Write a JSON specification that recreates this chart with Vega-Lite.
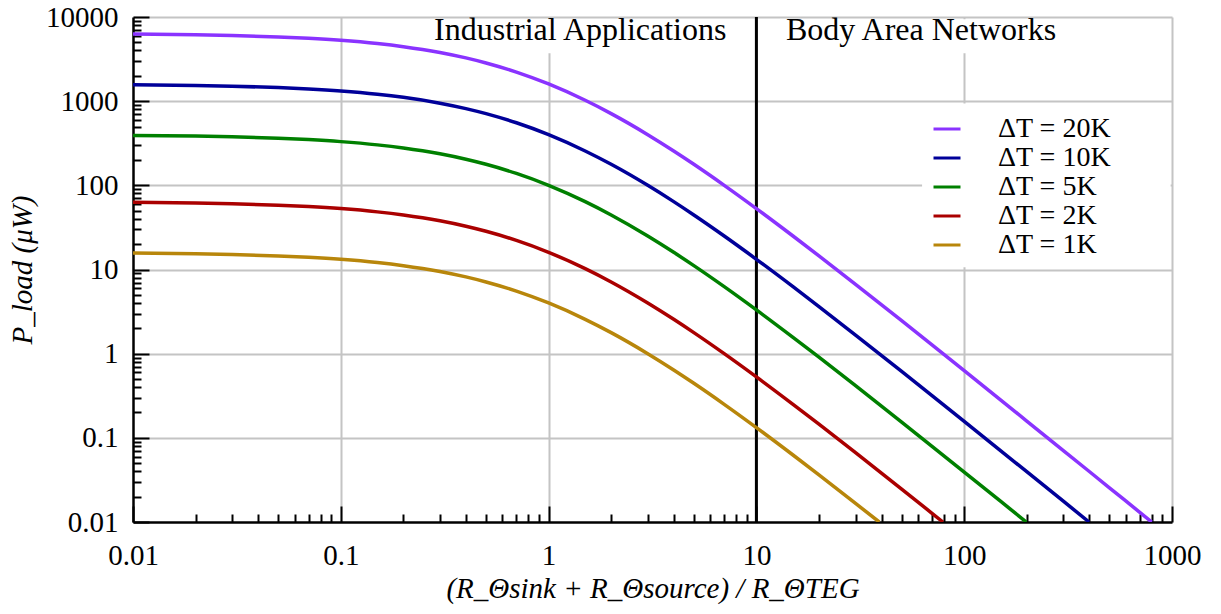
{
  "$schema": "https://vega.github.io/schema/vega-lite/v6.json",
  "width": 1039,
  "height": 505,
  "autosize": {"type": "none"},
  "padding": {"left": 133, "top": 17, "right": 49, "bottom": 92},
  "background": "white",
  "config": {
    "view": {"stroke": null},
    "font": "Liberation Serif",
    "legend": {"labelFont": "Liberation Serif"}
  },
  "datasets": {
    "curves": [
      {"x": 0.01, "p": 6273.9, "s": "ΔT = 20K"}, {"x": 0.02, "p": 6151.5, "s": "ΔT = 20K"}, {"x": 0.03, "p": 6032.6, "s": "ΔT = 20K"}, {"x": 0.05, "p": 5805.0, "s": "ΔT = 20K"}, {"x": 0.07, "p": 5590.0, "s": "ΔT = 20K"}, {"x": 0.1, "p": 5289.3, "s": "ΔT = 20K"}, {"x": 0.15, "p": 4839.3, "s": "ΔT = 20K"}, {"x": 0.2, "p": 4444.4, "s": "ΔT = 20K"}, {"x": 0.3, "p": 3787.0, "s": "ΔT = 20K"}, {"x": 0.4, "p": 3265.3, "s": "ΔT = 20K"}, {"x": 0.5, "p": 2844.4, "s": "ΔT = 20K"}, {"x": 0.7, "p": 2214.5, "s": "ΔT = 20K"}, {"x": 1, "p": 1600, "s": "ΔT = 20K"}, {"x": 1.5, "p": 1024, "s": "ΔT = 20K"}, {"x": 2, "p": 711.1, "s": "ΔT = 20K"}, {"x": 3, "p": 400, "s": "ΔT = 20K"}, {"x": 4, "p": 256, "s": "ΔT = 20K"}, {"x": 5, "p": 177.8, "s": "ΔT = 20K"}, {"x": 7, "p": 100, "s": "ΔT = 20K"}, {"x": 10, "p": 52.89, "s": "ΔT = 20K"}, {"x": 15, "p": 25.0, "s": "ΔT = 20K"}, {"x": 20, "p": 14.51, "s": "ΔT = 20K"}, {"x": 30, "p": 6.66, "s": "ΔT = 20K"}, {"x": 50, "p": 2.461, "s": "ΔT = 20K"}, {"x": 70, "p": 1.2696, "s": "ΔT = 20K"}, {"x": 100, "p": 0.6274, "s": "ΔT = 20K"}, {"x": 150, "p": 0.2807, "s": "ΔT = 20K"}, {"x": 200, "p": 0.1584, "s": "ΔT = 20K"}, {"x": 300, "p": 0.07064, "s": "ΔT = 20K"}, {"x": 400, "p": 0.0398, "s": "ΔT = 20K"}, {"x": 500, "p": 0.0255, "s": "ΔT = 20K"}, {"x": 700, "p": 0.01302, "s": "ΔT = 20K"}, {"x": 799, "p": 0.01, "s": "ΔT = 20K"},
      {"x": 0.01, "p": 1568.5, "s": "ΔT = 10K"}, {"x": 0.02, "p": 1537.9, "s": "ΔT = 10K"}, {"x": 0.03, "p": 1508.2, "s": "ΔT = 10K"}, {"x": 0.05, "p": 1451.2, "s": "ΔT = 10K"}, {"x": 0.07, "p": 1397.5, "s": "ΔT = 10K"}, {"x": 0.1, "p": 1322.3, "s": "ΔT = 10K"}, {"x": 0.15, "p": 1209.8, "s": "ΔT = 10K"}, {"x": 0.2, "p": 1111.1, "s": "ΔT = 10K"}, {"x": 0.3, "p": 946.7, "s": "ΔT = 10K"}, {"x": 0.4, "p": 816.3, "s": "ΔT = 10K"}, {"x": 0.5, "p": 711.1, "s": "ΔT = 10K"}, {"x": 0.7, "p": 553.6, "s": "ΔT = 10K"}, {"x": 1, "p": 400, "s": "ΔT = 10K"}, {"x": 1.5, "p": 256, "s": "ΔT = 10K"}, {"x": 2, "p": 177.8, "s": "ΔT = 10K"}, {"x": 3, "p": 100, "s": "ΔT = 10K"}, {"x": 4, "p": 64, "s": "ΔT = 10K"}, {"x": 5, "p": 44.44, "s": "ΔT = 10K"}, {"x": 7, "p": 25, "s": "ΔT = 10K"}, {"x": 10, "p": 13.22, "s": "ΔT = 10K"}, {"x": 15, "p": 6.25, "s": "ΔT = 10K"}, {"x": 20, "p": 3.628, "s": "ΔT = 10K"}, {"x": 30, "p": 1.665, "s": "ΔT = 10K"}, {"x": 50, "p": 0.6152, "s": "ΔT = 10K"}, {"x": 70, "p": 0.3174, "s": "ΔT = 10K"}, {"x": 100, "p": 0.1568, "s": "ΔT = 10K"}, {"x": 150, "p": 0.07017, "s": "ΔT = 10K"}, {"x": 200, "p": 0.0396, "s": "ΔT = 10K"}, {"x": 300, "p": 0.01766, "s": "ΔT = 10K"}, {"x": 399, "p": 0.01, "s": "ΔT = 10K"},
      {"x": 0.01, "p": 392.1, "s": "ΔT = 5K"}, {"x": 0.02, "p": 384.5, "s": "ΔT = 5K"}, {"x": 0.03, "p": 377.0, "s": "ΔT = 5K"}, {"x": 0.05, "p": 362.8, "s": "ΔT = 5K"}, {"x": 0.07, "p": 349.4, "s": "ΔT = 5K"}, {"x": 0.1, "p": 330.6, "s": "ΔT = 5K"}, {"x": 0.15, "p": 302.5, "s": "ΔT = 5K"}, {"x": 0.2, "p": 277.8, "s": "ΔT = 5K"}, {"x": 0.3, "p": 236.7, "s": "ΔT = 5K"}, {"x": 0.4, "p": 204.1, "s": "ΔT = 5K"}, {"x": 0.5, "p": 177.8, "s": "ΔT = 5K"}, {"x": 0.7, "p": 138.4, "s": "ΔT = 5K"}, {"x": 1, "p": 100, "s": "ΔT = 5K"}, {"x": 1.5, "p": 64, "s": "ΔT = 5K"}, {"x": 2, "p": 44.44, "s": "ΔT = 5K"}, {"x": 3, "p": 25, "s": "ΔT = 5K"}, {"x": 4, "p": 16, "s": "ΔT = 5K"}, {"x": 5, "p": 11.11, "s": "ΔT = 5K"}, {"x": 7, "p": 6.25, "s": "ΔT = 5K"}, {"x": 10, "p": 3.306, "s": "ΔT = 5K"}, {"x": 15, "p": 1.5625, "s": "ΔT = 5K"}, {"x": 20, "p": 0.907, "s": "ΔT = 5K"}, {"x": 30, "p": 0.4162, "s": "ΔT = 5K"}, {"x": 50, "p": 0.1538, "s": "ΔT = 5K"}, {"x": 70, "p": 0.07935, "s": "ΔT = 5K"}, {"x": 100, "p": 0.03921, "s": "ΔT = 5K"}, {"x": 150, "p": 0.01754, "s": "ΔT = 5K"}, {"x": 199, "p": 0.01, "s": "ΔT = 5K"},
      {"x": 0.01, "p": 62.74, "s": "ΔT = 2K"}, {"x": 0.02, "p": 61.51, "s": "ΔT = 2K"}, {"x": 0.03, "p": 60.33, "s": "ΔT = 2K"}, {"x": 0.05, "p": 58.05, "s": "ΔT = 2K"}, {"x": 0.07, "p": 55.9, "s": "ΔT = 2K"}, {"x": 0.1, "p": 52.89, "s": "ΔT = 2K"}, {"x": 0.15, "p": 48.39, "s": "ΔT = 2K"}, {"x": 0.2, "p": 44.44, "s": "ΔT = 2K"}, {"x": 0.3, "p": 37.87, "s": "ΔT = 2K"}, {"x": 0.4, "p": 32.65, "s": "ΔT = 2K"}, {"x": 0.5, "p": 28.44, "s": "ΔT = 2K"}, {"x": 0.7, "p": 22.15, "s": "ΔT = 2K"}, {"x": 1, "p": 16, "s": "ΔT = 2K"}, {"x": 1.5, "p": 10.24, "s": "ΔT = 2K"}, {"x": 2, "p": 7.111, "s": "ΔT = 2K"}, {"x": 3, "p": 4, "s": "ΔT = 2K"}, {"x": 4, "p": 2.56, "s": "ΔT = 2K"}, {"x": 5, "p": 1.778, "s": "ΔT = 2K"}, {"x": 7, "p": 1.0, "s": "ΔT = 2K"}, {"x": 10, "p": 0.5289, "s": "ΔT = 2K"}, {"x": 15, "p": 0.25, "s": "ΔT = 2K"}, {"x": 20, "p": 0.1451, "s": "ΔT = 2K"}, {"x": 30, "p": 0.0666, "s": "ΔT = 2K"}, {"x": 50, "p": 0.02461, "s": "ΔT = 2K"}, {"x": 70, "p": 0.0127, "s": "ΔT = 2K"}, {"x": 79, "p": 0.01, "s": "ΔT = 2K"},
      {"x": 0.01, "p": 15.68, "s": "ΔT = 1K"}, {"x": 0.02, "p": 15.38, "s": "ΔT = 1K"}, {"x": 0.03, "p": 15.08, "s": "ΔT = 1K"}, {"x": 0.05, "p": 14.51, "s": "ΔT = 1K"}, {"x": 0.07, "p": 13.97, "s": "ΔT = 1K"}, {"x": 0.1, "p": 13.22, "s": "ΔT = 1K"}, {"x": 0.15, "p": 12.1, "s": "ΔT = 1K"}, {"x": 0.2, "p": 11.11, "s": "ΔT = 1K"}, {"x": 0.3, "p": 9.467, "s": "ΔT = 1K"}, {"x": 0.4, "p": 8.163, "s": "ΔT = 1K"}, {"x": 0.5, "p": 7.111, "s": "ΔT = 1K"}, {"x": 0.7, "p": 5.536, "s": "ΔT = 1K"}, {"x": 1, "p": 4, "s": "ΔT = 1K"}, {"x": 1.5, "p": 2.56, "s": "ΔT = 1K"}, {"x": 2, "p": 1.778, "s": "ΔT = 1K"}, {"x": 3, "p": 1, "s": "ΔT = 1K"}, {"x": 4, "p": 0.64, "s": "ΔT = 1K"}, {"x": 5, "p": 0.4444, "s": "ΔT = 1K"}, {"x": 7, "p": 0.25, "s": "ΔT = 1K"}, {"x": 10, "p": 0.1322, "s": "ΔT = 1K"}, {"x": 15, "p": 0.0625, "s": "ΔT = 1K"}, {"x": 20, "p": 0.03628, "s": "ΔT = 1K"}, {"x": 30, "p": 0.01665, "s": "ΔT = 1K"}, {"x": 39, "p": 0.01, "s": "ΔT = 1K"}
    ],
    "boxes": [
      {"x": 0.27, "x2": 9.5, "y": 3700, "y2": 9400},
      {"x": 13, "x2": 290, "y": 3700, "y2": 9400},
      {"x": 62.7, "x2": 985, "y": 10.6, "y2": 940}
    ],
    "labels": [
      {"x": 1.42, "y": 5300, "t": "Industrial Applications"},
      {"x": 62, "y": 5300, "t": "Body Area Networks"}
    ],
    "divider": [
      {"x": 10, "y": 0.01, "y2": 10000}
    ]
  },
  "resolve": {"axis": {"x": "independent", "y": "independent"}},
  "layer": [
    {
      "data": {"name": "boxes"},
      "mark": {"type": "rect", "fill": "white", "stroke": null},
      "encoding": {
        "x": {"field": "x", "type": "quantitative",
          "scale": {"type": "log", "domain": [0.01, 1000]},
          "axis": {"orient": "bottom", "values": [0.1, 1, 10, 100, 1000], "grid": true, "gridColor": "#c4c4c4", "gridWidth": 2, "gridOpacity": 1, "ticks": false, "labels": false, "domain": false, "title": null}},
        "x2": {"field": "x2"},
        "y": {"field": "y", "type": "quantitative",
          "scale": {"type": "log", "domain": [0.01, 10000]},
          "axis": {"orient": "left", "values": [0.1, 1, 10, 100, 1000, 10000], "grid": true, "gridColor": "#c4c4c4", "gridWidth": 2, "gridOpacity": 1, "ticks": false, "labels": false, "domain": false, "title": null}},
        "y2": {"field": "y2"}
      }
    },
    {
      "data": {"name": "divider"},
      "mark": {"type": "rule", "color": "black", "strokeWidth": 3},
      "encoding": {
        "x": {"field": "x", "type": "quantitative",
          "scale": {"type": "log", "domain": [0.01, 1000]},
          "axis": {"orient": "bottom", "values": [0.02, 0.03, 0.04, 0.05, 0.06, 0.07, 0.08, 0.09, 0.2, 0.3, 0.4, 0.5, 0.6, 0.7, 0.8, 0.9, 2, 3, 4, 5, 6, 7, 8, 9, 20, 30, 40, 50, 60, 70, 80, 90, 200, 300, 400, 500, 600, 700, 800, 900],
            "grid": false, "labels": false, "domain": false, "ticks": true, "tickColor": "black", "tickWidth": 2, "tickSize": -8, "title": null}},
        "y": {"field": "y", "type": "quantitative",
          "scale": {"type": "log", "domain": [0.01, 10000]},
          "axis": {"orient": "left", "values": [0.02, 0.03, 0.04, 0.05, 0.06, 0.07, 0.08, 0.09, 0.2, 0.3, 0.4, 0.5, 0.6, 0.7, 0.8, 0.9, 2, 3, 4, 5, 6, 7, 8, 9, 20, 30, 40, 50, 60, 70, 80, 90, 200, 300, 400, 500, 600, 700, 800, 900, 2000, 3000, 4000, 5000, 6000, 7000, 8000, 9000],
            "grid": false, "labels": false, "domain": false, "ticks": true, "tickColor": "black", "tickWidth": 2, "tickSize": -8, "title": null}},
        "y2": {"field": "y2"}
      }
    },
    {
      "data": {"name": "curves"},
      "mark": {"type": "line", "strokeWidth": 3.5, "interpolate": "monotone", "clip": true},
      "encoding": {
        "x": {"field": "x", "type": "quantitative",
          "scale": {"type": "log", "domain": [0.01, 1000]},
          "axis": {"orient": "bottom", "values": [0.01, 0.1, 1, 10, 100, 1000], "format": "~g", "grid": false,
            "domain": true, "domainColor": "black", "domainWidth": 2.5,
            "ticks": true, "tickColor": "black", "tickWidth": 2, "tickSize": -16,
            "labelPadding": 35, "labelFont": "Liberation Serif", "labelFontSize": 29, "labelColor": "black", "labelFlush": false, "labelOverlap": false,
            "title": "(R_Θsink + R_Θsource) / R_ΘTEG", "titleFont": "Liberation Serif", "titleFontSize": 29, "titleFontWeight": "normal", "titleFontStyle": "italic", "titleColor": "black", "titlePadding": 4}},
        "y": {"field": "p", "type": "quantitative",
          "scale": {"type": "log", "domain": [0.01, 10000]},
          "axis": {"orient": "left", "values": [0.01, 0.1, 1, 10, 100, 1000, 10000], "format": "~g", "grid": false,
            "domain": true, "domainColor": "black", "domainWidth": 2.5,
            "ticks": true, "tickColor": "black", "tickWidth": 2, "tickSize": -16,
            "labelPadding": 31, "labelFont": "Liberation Serif", "labelFontSize": 29, "labelColor": "black", "labelFlush": false, "labelOverlap": false,
            "title": "P_load (μW)", "titleFont": "Liberation Serif", "titleFontSize": 29, "titleFontWeight": "normal", "titleFontStyle": "italic", "titleColor": "black", "titlePadding": 8}},
        "color": {"field": "s", "type": "nominal",
          "scale": {"domain": ["ΔT = 20K", "ΔT = 10K", "ΔT = 5K", "ΔT = 2K", "ΔT = 1K"], "range": ["#8a33ff", "#000099", "#008000", "#aa0000", "#b8860b"]},
          "legend": {"title": null, "orient": "none", "legendX": 789, "legendY": 87, "padding": 10,
            "symbolType": "stroke", "symbolSize": 729, "symbolStrokeWidth": 3,
            "labelFont": "Liberation Serif", "labelFontSize": 28, "labelColor": "black", "labelOffset": 36, "rowPadding": -0.75, "labelLimit": 400}}
      }
    },
    {
      "data": {"name": "labels"},
      "mark": {"type": "text", "font": "Liberation Serif", "fontSize": 32, "color": "black", "align": "center", "baseline": "alphabetic"},
      "encoding": {
        "x": {"field": "x", "type": "quantitative", "scale": {"type": "log", "domain": [0.01, 1000]}, "axis": null},
        "y": {"field": "y", "type": "quantitative", "scale": {"type": "log", "domain": [0.01, 10000]}, "axis": null},
        "text": {"field": "t"}
      }
    }
  ]
}
